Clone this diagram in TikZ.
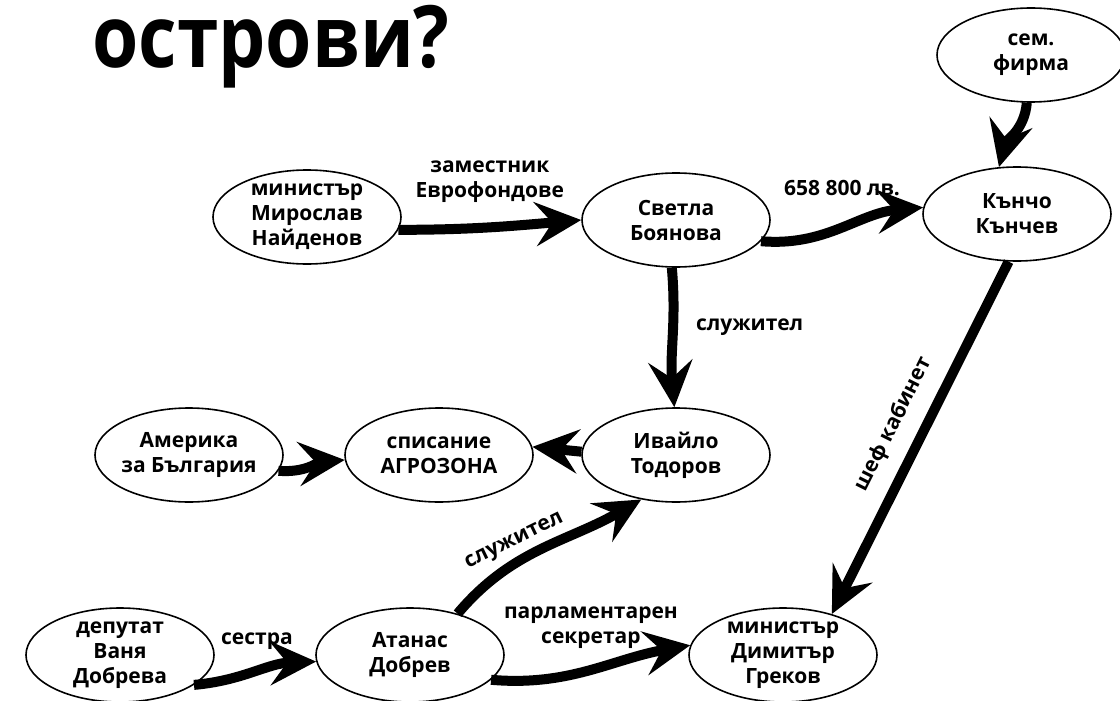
\documentclass[tikz,border=0pt]{standalone}
\usepackage{fontspec}
\setmainfont{Open Sans}[Script=Cyrillic, Language=Bulgarian]
\newfontfamily\headfont{Open Sans}[Script=Cyrillic, Language=Bulgarian, FakeStretch=0.87]
\usetikzlibrary{shapes.geometric, arrows.meta, positioning}
\tikzstyle{person} = [ellipse, minimum width=188pt, minimum height=94pt, inner sep=-12pt, align=center, draw=black, line width=1.6pt, font=\fontsize{21}{25}\selectfont\bfseries]
\tikzstyle{tag} = [inner sep=0pt, align=center, font=\fontsize{21}{25}\selectfont\bfseries]
\tikzstyle{link} = [line width=10pt, -{Stealth[length=46pt, width=44pt, inset=17pt]}]

\begin{document}
\begin{tikzpicture}[x=1pt, y=1pt, node distance=230pt]
\useasboundingbox (0,0) rectangle (1120,-701);

\node (title) [anchor=base, font=\headfont\fontsize{86}{86}\selectfont\bfseries] at (271,-68) {острови?};

\node (svetla)   [person] at (676,-220) {Светла\\Боянова};
\node (naydenov) [person, left of=svetla, xshift=-139pt, yshift=3pt] {министър\\Мирослав\\Найденов};
\node (kuncho)   [person, right of=svetla, xshift=111pt, yshift=6pt] {Кънчо\\Кънчев};
\node (firma)    [person, above of=kuncho, xshift=14pt, yshift=-71pt] {сем.\\фирма};
\node (ivaylo)   [person, below of=svetla, yshift=-5pt] {Ивайло\\Тодоров};
\node (agro)     [person, left of=ivaylo, xshift=-7pt] {списание\\АГРОЗОНА};
\node (amerika)  [person, left of=agro, xshift=-20pt] {Америка\\за България};
\node (atanas)   [person, below of=agro, xshift=-29pt, yshift=30pt] {Атанас\\Добрев};
\node (dobreva)  [person, left of=atanas, xshift=-60pt] {депутат\\Ваня\\Добрева};
\node (grekov)   [person, right of=atanas, xshift=143pt] {министър\\Димитър\\Греков};

% Горен ред
\draw [link] (naydenov.-8) to[out=0, in=185] node[tag, above=20pt] {заместник\\Еврофондове} (svetla.180);
\draw [link] (svetla.-14) to[out=-5, in=185] node[tag, above=28pt] {658 800 лв.} (kuncho.176);
\draw [link] (firma.-95) to[out=-95, in=75] (kuncho.111);

% Към Ивайло и списанието
\draw [link] (svetla.-95) to[out=-85, in=95] node[tag, right=18pt, yshift=10pt] {служител} (ivaylo.92);
\draw [link] (ivaylo.178) -- (agro.5);
\draw [link] (amerika.-10) to[out=-5, in=185] (agro.183);

% Шеф кабинет
\draw [link] (kuncho.-100) -- node[tag, sloped, above=14pt] {шеф кабинет} (grekov.40);

% Долен ред
\draw [link] (atanas.41) to[out=50, in=-150] node[tag, rotate=26, xshift=-22pt, yshift=18pt] {служител} (ivaylo.-128);
\draw [link] (atanas.-17) to[out=-5, in=190] node[tag, above=17pt] {парламентарен\\секретар} (grekov.174);
\draw [link] (dobreva.-22) to[out=5, in=182] node[tag, above=18pt, xshift=2pt] {сестра} (atanas.184);

\end{tikzpicture}
\end{document}
